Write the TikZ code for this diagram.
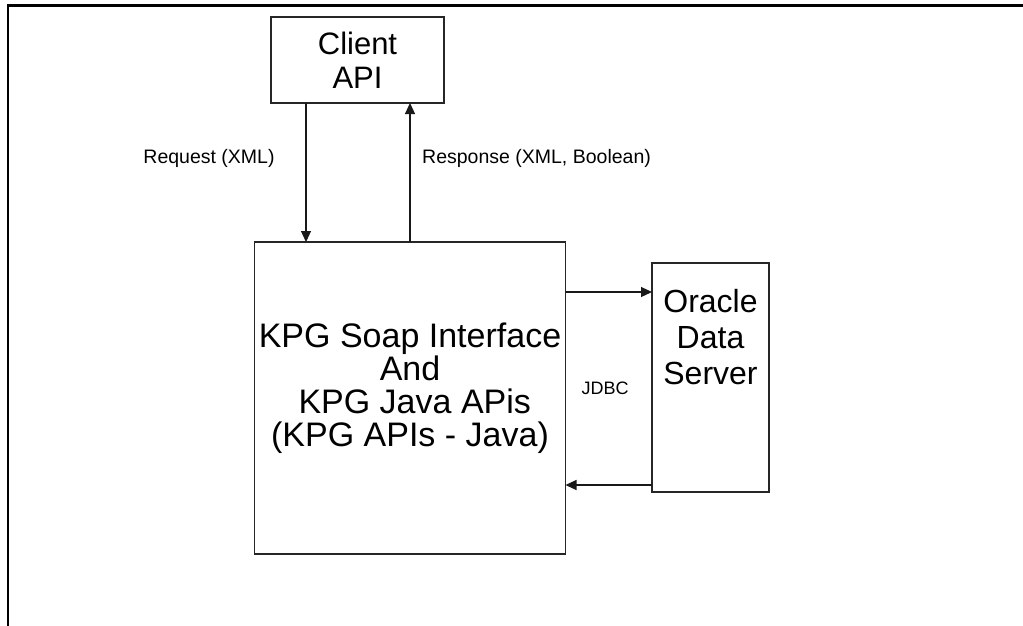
\documentclass[tikz,border=0pt]{standalone}
\usepackage{fontspec}
\setmainfont{Liberation Sans}
\usetikzlibrary{arrows.meta}
\begin{document}
\begin{tikzpicture}[x=1pt,y=-1pt,
  box/.style={draw=black!85, line width=1.3pt, inner sep=0pt, outer sep=0pt},
  boxtext/.style={inner sep=0pt, align=center},
  lbl/.style={inner sep=0pt, font=\fontsize{19.5}{22}\selectfont},
  arr/.style={line width=1.1pt, draw=black!90, -{Triangle[length=11pt,width=10pt]}}]
  \useasboundingbox (0,0) rectangle (1023,625);
  % frame running off the right and bottom edges
  \draw[line width=2.2pt, line cap=rect] (8,640) -- (8,5.5) -- (1040,5.5);

  % boxes
  \node[box, minimum width=173pt, minimum height=86pt] (client) at (357.5,60) {};
  \node[box, minimum width=311pt, minimum height=312pt] (main) at (410,398) {};
  \node[box, minimum width=117pt, minimum height=229pt] (oracle) at (710.5,377.5) {};

  % box texts
  \node[boxtext, font=\fontsize{31}{34}\selectfont] (clienttxt) at (client.center) {Client\\API};
  \node[boxtext, font=\fontsize{34}{33}\selectfont] (maintxt) at (410,388)
    {KPG Soap Interface\\And\\\hspace*{0.278em}KPG Java APis\\(KPG APIs - Java)};
  \node[boxtext, font=\fontsize{32}{36}\selectfont] (oracletxt) at (710.5,337)
    {Oracle\\Data\\Server};

  \coordinate (rq) at (306,0);
  \coordinate (rs) at (410,0);
  \coordinate (jt) at (0,292);
  \coordinate (jb) at (0,485);

  \draw[arr] (client.south -| rq) -- (main.north -| rq);
  \draw[arr] (main.north -| rs) -- (client.south -| rs);
  \draw[arr] (main.east |- jt) -- (oracle.west |- jt);
  \draw[arr] (oracle.west |- jb) -- (main.east |- jb);

  \node[lbl] (reqlbl) at (209,158) {Request (XML)};
  \node[lbl, anchor=west] (reslbl) at (422,158) {Response (XML, Boolean)};
  \node[lbl, font=\fontsize{18}{21}\selectfont] (jdbc) at (605,388) {JDBC};
\end{tikzpicture}
\end{document}
